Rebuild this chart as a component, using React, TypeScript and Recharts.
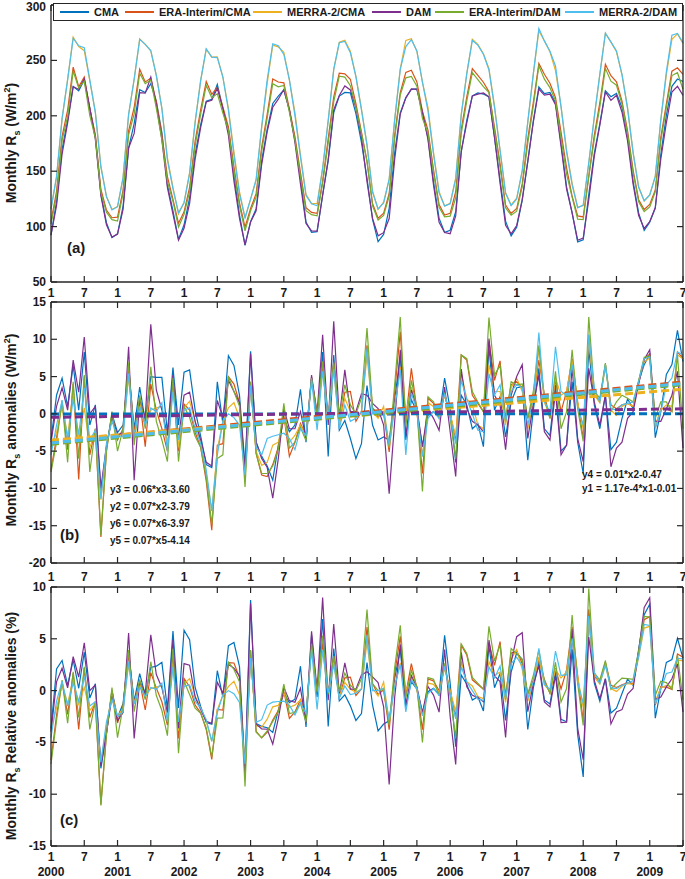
import React from 'react';
import { LineChart, Line, XAxis, YAxis, ReferenceLine } from 'recharts';

// series in drawing order
const seriesNames = ['CMA', 'ERA-Interim/CMA', 'MERRA-2/CMA', 'DAM', 'ERA-Interim/DAM', 'MERRA-2/DAM'];
const seriesKeys = ['cma', 'eraCma', 'merraCma', 'dam', 'eraDam', 'merraDam'];
const seriesColors = ['#0072BD', '#D95319', '#EDB120', '#7E2F8E', '#77AC30', '#4DBEEE'];

const years = [2000, 2001, 2002, 2003, 2004, 2005, 2006, 2007, 2008, 2009];
// month index from Jan 2000 (0) to Jul 2009 (114), a tick every 6 months
const monthTicks = [0, 6, 12, 18, 24, 30, 36, 42, 48, 54, 60, 66, 72, 78, 84, 90, 96, 102, 108, 114];

// multi-year monthly means (Jan..Dec), W/m2
const climCma = [96, 120, 165, 195, 220, 222, 224, 208, 180, 140, 108, 90];
const climEraCma = [112, 135, 180, 210, 240, 235, 230, 212, 185, 150, 120, 108];
const climMerraCma = [121, 147, 196, 236, 268, 266, 258, 236, 206, 166, 132, 116];
const climDam = [96, 118, 162, 193, 219, 221, 223, 207, 178, 138, 106, 91];
const climEraDam = [110, 132, 176, 206, 236, 231, 226, 208, 182, 147, 118, 106];
const climMerraDam = [121, 147, 196, 236, 268, 266, 258, 236, 205, 165, 131, 116];

// monthly anomalies, W/m2 (Jan 2000 .. Jul 2009)
const anomCma = [
  -3.5, 2.5, 4.8, 1.0, 6.5, 0.5, 8.3, -1.5, 1.2, -10.5,
  -4.5, 0.0, -2.5, -1.5, 6.0, -2.0, 3.6, -1.0, 5.0, 4.9,
  4.9, -2.5, 6.2, -1.5, 5.6, 5.9, 0.5, -3.0, -6.8, -7.2,
  4.3, -1.3, 7.8, 6.5, 2.5, -7.0, 8.4, -3.8, -5.7, -7.0,
  -8.9, -4.2, -0.6, -2.4, -1.5, 3.3, -3.8, 4.8, -0.6, 8.3,
  -5.7, 7.9, -2.2, -0.9, -3.3, -6.0, -4.0, 3.8, -1.5, -3.5,
  -3.1, -3.5, 2.0, 7.7, -3.5, 1.9, 0.3, -4.4, -0.2, 0.3,
  -0.4, 4.8, 0.7, -6.5, 2.5, 1.2, -2.0, -1.3, -4.4, 9.0,
  0.5, 2.3, -3.1, 1.6, 3.5, 3.6, -6.2, 0.5, 6.1, -2.0,
  -2.9, 3.9, -5.0, -4.2, 4.3, -3.8, -8.0, 8.8, 1.2, -2.0,
  2.5, -4.8, -3.8, -0.6, 2.0, 0.7, 4.3, 6.6, 8.0, -3.2,
  0.3, 5.3, 6.6, 11.2, 7.0,
];
const anomEraCma = [
  -7.5, -3.2, 1.5, -4.8, 4.0, -8.8, 5.0, -5.5, -2.0, -16.5,
  -5.0, 0.0, -3.5, -2.0, 6.5, -2.5, 2.0, -4.4, 4.0, 0.5,
  -2.0, -5.0, 4.5, -5.0, 1.3, 0.5, -2.5, -4.5, -9.0, -15.6,
  -4.2, -4.0, 5.0, 4.0, 1.5, -8.5, 4.3, -5.3, -8.2, -8.4,
  -6.8, -4.5, -0.2, -5.7, -3.8, -1.3, -2.9, 4.8, 0.0, 6.2,
  -0.6, 7.0, -1.5, 2.9, 3.0, -1.0, 0.3, 9.2, 0.8, -0.4,
  0.1, -5.1, 3.0, 11.0, -0.8, 6.1, 0.5, -8.0, 2.1, 1.4,
  0.0, 2.5, 0.0, -3.5, 7.9, 7.2, 2.5, 1.4, 0.3, 9.8,
  4.5, 7.1, -0.6, 3.9, 4.3, 3.5, -0.6, 2.1, 7.2, 2.5,
  -0.6, 4.6, 0.3, 3.0, 7.4, 1.6, -3.3, 10.6, 2.5, 1.8,
  6.6, 1.2, 0.7, 1.2, 1.4, 1.0, 4.3, 7.4, 8.0, -1.9,
  0.7, 0.7, 0.3, 8.3, 7.4,
];
const anomMerraCma = [
  -4.5, -2.5, 1.2, -3.0, 3.0, -3.5, 0.8, -4.5, -2.5, -11.5,
  -4.5, -0.5, -3.0, -2.5, 5.0, -3.0, 1.5, -1.5, 0.5, 0.8,
  1.0, -4.0, 3.5, -4.5, 0.8, 1.7, -1.0, -4.0, -8.0, -13.0,
  -4.8, -1.0, 0.8, 1.5, -0.5, -8.2, 3.8, -5.0, -6.9, -6.5,
  -4.2, -3.8, -0.6, -3.8, -2.9, -1.5, -2.9, 4.8, 0.0, 5.7,
  -0.6, 5.9, -1.5, 2.1, 0.3, -0.4, 0.3, 7.8, 0.3, -0.6,
  1.0, -4.5, 1.0, 6.3, 0.0, 3.6, 0.2, -5.7, 1.5, 1.0,
  -0.2, 2.5, 0.0, -3.0, 5.5, 2.0, 1.2, -1.5, -2.0, 6.6,
  3.0, 3.0, -1.5, 3.5, 4.8, 3.0, -2.0, 1.5, 8.7, 1.5,
  -0.2, 4.8, 2.5, 3.0, 7.2, 1.5, -2.0, 10.1, 2.5, 1.5,
  6.6, 0.5, -0.2, 1.0, 1.4, 1.0, 4.3, 7.0, 7.5, -1.5,
  0.5, 1.2, 1.0, 7.9, 7.4,
];
const anomDam = [
  -3.8, 1.0, 3.5, 0.5, 7.2, 2.9, 10.3, 0.0, 1.0, -10.0,
  -4.3, -0.5, -2.8, -2.5, 9.0, -8.9, 2.0, -0.5, 12.0, 3.2,
  0.5, -2.9, 5.2, -3.3, 2.5, 2.9, -1.0, -3.5, -6.5, -7.0,
  1.8, -0.5, 4.5, 3.0, 1.5, -7.5, 8.1, -3.8, -6.0, -7.2,
  -11.3, -6.0, 0.7, -2.0, -2.0, 0.3, -3.3, 5.2, 0.0, 10.6,
  -1.5, 12.4, -0.6, 5.9, 0.3, 0.3, 2.7, 2.5, 1.4, 0.7,
  -1.5, -10.7, -1.0, 8.6, -3.0, 3.2, 0.8, -4.4, 0.7, -0.6,
  -2.2, 3.6, -2.4, -8.4, 6.0, 0.7, -1.0, -1.5, -2.4, 10.1,
  2.5, 1.2, -4.8, 2.5, 5.0, 6.6, -3.3, 1.2, 5.2, -2.4,
  -3.5, 3.0, -5.5, -4.2, 6.3, -3.3, -6.4, 6.1, 1.6, -1.5,
  2.5, -7.1, -4.6, -3.8, -0.6, 0.3, 4.0, 7.3, 8.6, -1.0,
  -1.0, 0.7, 2.5, 5.7, -4.6,
];
const anomEraDam = [
  -7.8, -3.8, 1.8, -6.5, 4.3, -6.0, 5.2, -7.8, -2.0, -16.3,
  -5.0, 0.3, -5.0, -2.0, 6.9, -4.2, 2.5, -2.0, 6.3, -1.0,
  -3.5, -6.4, 4.8, -6.4, 1.0, -0.5, -3.0, -4.5, -8.5, -14.8,
  -6.0, -5.5, 5.0, 3.0, 1.0, -9.8, 4.3, -5.3, -8.0, -8.0,
  -7.0, -4.8, 1.4, -4.6, -3.8, -1.8, -3.6, 4.8, -0.2, 7.0,
  -0.6, 6.8, -0.2, 3.9, 1.2, 0.0, 2.1, 11.5, 0.8, 0.0,
  0.1, -4.4, 4.0, 13.0, -1.7, 4.5, 0.8, -10.4, 2.3, 1.6,
  -0.6, 2.8, -0.6, -6.0, 7.9, 7.4, 3.0, 1.6, 0.3, 12.9,
  5.2, 6.5, -1.0, 4.3, 3.9, 4.0, -0.6, 3.0, 9.2, 2.1,
  -0.6, 5.7, -2.0, 0.3, 8.6, 0.7, -3.7, 13.0, 3.0, 2.1,
  6.8, 0.3, 1.6, 2.5, 2.1, 1.6, 4.5, 7.6, 7.8, -0.6,
  1.6, 1.6, 0.3, 7.9, -2.0,
];
const anomMerraDam = [
  -5.5, -1.5, 1.8, -3.5, 2.0, -2.8, 3.5, -3.5, -2.2, -11.4,
  -4.0, -1.0, -3.0, -3.0, 5.4, -3.0, 1.0, -1.5, 0.8, 0.3,
  1.5, -5.0, 3.0, -3.5, 0.5, 0.8, -2.0, -4.0, -7.5, -13.0,
  -5.5, -1.0, 0.0, -0.5, -1.5, -8.2, 3.8, -4.5, -5.5, -3.3,
  -3.0, -2.8, -2.6, -3.3, -4.8, -2.0, -2.9, 4.6, -2.2, 5.7,
  -0.4, 6.0, -2.0, 1.2, -1.0, -0.6, 0.3, 8.8, 0.0, 0.0,
  0.3, -4.2, 0.8, 5.9, -5.5, 2.8, 0.5, -5.7, -0.6, 0.3,
  -0.6, 2.7, -0.4, -4.0, 4.5, 2.0, 0.0, -2.2, -2.4, 5.4,
  2.5, 3.9, -1.0, 3.0, 3.9, 3.5, -1.5, 2.1, 10.9, 1.6,
  0.3, 9.0, 3.0, 2.5, 6.6, 0.9, -1.5, 10.6, 3.4, 1.6,
  6.6, 0.7, 0.5, 1.2, 1.4, 1.6, 4.3, 7.4, 7.6, -1.9,
  0.3, 3.9, 4.8, 8.3, 7.9,
];

// linear trends printed in panel (b): y = slope * x + intercept, x = 1..115
const trendSlopes = [1.17e-4, 0.07, 0.06, 0.01, 0.07, 0.07];
const trendIntercepts = [-0.01, -3.79, -3.6, -0.47, -4.14, -3.97];
const trendLabelsLeft = ['y3 = 0.06*x3-3.60', 'y2 = 0.07*x2-3.79', 'y6 = 0.07*x6-3.97', 'y5 = 0.07*x5-4.14'];
const trendLabelsRight = ['y4 = 0.01*x2-0.47', 'y1 = 1.17e-4*x1-0.01'];

const climatology = [climCma, climEraCma, climMerraCma, climDam, climEraDam, climMerraDam];
const anomalies = [anomCma, anomEraCma, anomMerraCma, anomDam, anomEraDam, anomMerraDam];

type Kind = 'abs' | 'anom' | 'rel';
const buildRows = (kind: Kind) =>
  anomCma.map((_, i) => {
    const row: any = { i };
    seriesKeys.forEach((k, s) => {
      const a = anomalies[s][i];
      const c = climatology[s][i % 12];
      row[k] = kind === 'abs' ? c + a : kind === 'anom' ? a : (a / c) * 100;
    });
    return row;
  });

const FONT = "'Liberation Sans', Arial, Helvetica, sans-serif";
const AXIS = '#262626';
const tickText: React.CSSProperties = { fontFamily: FONT, fontWeight: 700, fontSize: 12, fill: '#1a1a1a' };

const BottomTick = (props: any) => {
  const { x, y, payload, offset, withYear } = props;
  const v = payload.value;
  const jan = v % 12 === 0;
  return (
    <g>
      <line x1={x} x2={x} y1={y} y2={y - 6} stroke={AXIS} strokeWidth={1.2} />
      <text x={x} y={y + offset} textAnchor="middle" style={tickText}>{jan ? '1' : '7'}</text>
      {withYear && jan && (
        <text x={x} y={y + offset + 15} textAnchor="middle" style={tickText}>{years[v / 12]}</text>
      )}
    </g>
  );
};
const TopTick = (props: any) => (
  <line x1={props.x} x2={props.x} y1={props.y} y2={props.y + 6} stroke={AXIS} strokeWidth={1.2} />
);
const LeftTick = (props: any) => {
  const { x, y, payload } = props;
  return (
    <g>
      <line x1={x} x2={x + 6} y1={y} y2={y} stroke={AXIS} strokeWidth={1.2} />
      {/* keep the topmost label inside the svg */}
      <text x={x - 5} y={Math.max(y + 4, 11)} textAnchor="end" style={tickText}>{payload.value}</text>
    </g>
  );
};
const RightTick = (props: any) => (
  <line x1={props.x} x2={props.x - 6} y1={props.y} y2={props.y} stroke={AXIS} strokeWidth={1.2} />
);

interface PanelProps {
  top: number;
  height: number;
  margin: { top: number; right: number; bottom: number; left: number };
  rows: any[];
  yDomain: [number, number];
  yTicks: number[];
  labelOffset: number;
  withYear?: boolean;
  children?: React.ReactNode;
}

// axes get 1px of room each (a zero-size axis is not drawn), margins below account for that
const Panel: React.FC<PanelProps> = ({ top, height, margin, rows, yDomain, yTicks, labelOffset, withYear, children }) => (
  <div style={{ position: 'absolute', left: 0, top }}>
    <LineChart width={685} height={height} data={rows} margin={margin}>
      <XAxis
        xAxisId="b"
        dataKey="i"
        type="number"
        domain={[0, 114]}
        ticks={monthTicks}
        interval={0}
        height={1}
        tickSize={0}
        tickMargin={0}
        axisLine={{ stroke: AXIS, strokeWidth: 1.3 }}
        tickLine={false}
        tick={(p: any) => <BottomTick {...p} offset={labelOffset} withYear={withYear} />}
      />
      <XAxis
        xAxisId="t"
        orientation="top"
        dataKey="i"
        type="number"
        domain={[0, 114]}
        ticks={monthTicks}
        interval={0}
        height={1}
        tickSize={0}
        tickMargin={0}
        axisLine={{ stroke: AXIS, strokeWidth: 1.3 }}
        tickLine={false}
        tick={TopTick}
      />
      <YAxis
        yAxisId="l"
        type="number"
        domain={yDomain}
        ticks={yTicks}
        interval={0}
        allowDataOverflow
        width={1}
        tickSize={0}
        tickMargin={0}
        axisLine={{ stroke: AXIS, strokeWidth: 1.3 }}
        tickLine={false}
        tick={LeftTick}
      />
      <YAxis
        yAxisId="r"
        orientation="right"
        type="number"
        domain={yDomain}
        ticks={yTicks}
        interval={0}
        allowDataOverflow
        width={1}
        tickSize={0}
        tickMargin={0}
        axisLine={{ stroke: AXIS, strokeWidth: 1.3 }}
        tickLine={false}
        tick={RightTick}
      />
      {seriesKeys.map((k, s) => (
        <Line
          key={k}
          xAxisId="b"
          yAxisId="l"
          type="linear"
          dataKey={k}
          name={seriesNames[s]}
          stroke={seriesColors[s]}
          strokeWidth={1.2}
          dot={false}
          activeDot={false}
          isAnimationActive={false}
        />
      ))}
      {children}
    </LineChart>
  </div>
);

const YTitle = ({ cx, cy, pre, post }: { cx: number; cy: number; pre: string; post: React.ReactNode }) => (
  <div
    style={{
      position: 'absolute',
      left: cx,
      top: cy,
      transform: 'translate(-50%, -50%) rotate(-90deg)',
      whiteSpace: 'nowrap',
      fontFamily: FONT,
      fontWeight: 700,
      fontSize: 14,
      lineHeight: '16px',
      color: '#1a1a1a',
    }}
  >
    {pre}R<span style={{ fontSize: 9, position: 'relative', top: 4 }}>s</span> {post}
  </div>
);

const Sup2 = () => <span style={{ fontSize: 9, position: 'relative', top: -6 }}>2</span>;

const tagStyle: React.CSSProperties = {
  position: 'absolute',
  fontFamily: FONT,
  fontWeight: 700,
  fontSize: 15,
  lineHeight: '18px',
  color: '#1a1a1a',
};
const eqStyle: React.CSSProperties = {
  position: 'absolute',
  fontFamily: FONT,
  fontWeight: 700,
  fontSize: 10,
  lineHeight: '12px',
  color: '#1a1a1a',
  whiteSpace: 'nowrap',
};

const legendLeft = [60, 125, 253, 372, 435, 565];

export default function App() {
  const absRows = buildRows('abs');
  const anomRows = buildRows('anom');
  const relRows = buildRows('rel');

  return (
    <div style={{ position: 'absolute', left: 0, top: 0, width: 685, height: 879, background: '#fff' }}>
      <Panel
        top={0}
        height={300}
        margin={{ top: 4, right: 1, bottom: 17, left: 50 }}
        rows={absRows}
        yDomain={[50, 300]}
        yTicks={[50, 100, 150, 200, 250, 300]}
        labelOffset={15}
      />
      <Panel
        top={290}
        height={295}
        margin={{ top: 11, right: 1, bottom: 21, left: 50 }}
        rows={anomRows}
        yDomain={[-20, 15]}
        yTicks={[-20, -15, -10, -5, 0, 5, 10, 15]}
        labelOffset={18}
      >
        {trendSlopes.map((m, s) => (
          <ReferenceLine
            key={`trend-${s}`}
            xAxisId="b"
            yAxisId="l"
            segment={[
              { x: 0, y: m * 1 + trendIntercepts[s] },
              { x: 114, y: m * 115 + trendIntercepts[s] },
            ]}
            stroke={seriesColors[s]}
            strokeWidth={3}
            strokeDasharray="8 4"
          />
        ))}
      </Panel>
      <Panel
        top={580}
        height={299}
        margin={{ top: 6, right: 1, bottom: 32, left: 50 }}
        rows={relRows}
        yDomain={[-15, 10]}
        yTicks={[-15, -10, -5, 0, 5, 10]}
        labelOffset={15}
        withYear
      />

      {/* legend of panel (a) */}
      <div
        style={{
          position: 'absolute',
          left: 53,
          top: 3,
          width: 628,
          height: 16,
          border: `1px solid ${AXIS}`,
          background: '#fff',
        }}
      />
      {seriesNames.map((n, s) => (
        <div
          key={n}
          style={{
            position: 'absolute',
            left: legendLeft[s],
            top: 4,
            height: 16,
            display: 'flex',
            alignItems: 'center',
            fontFamily: FONT,
            fontWeight: 700,
            fontSize: 11,
            color: '#1a1a1a',
            whiteSpace: 'nowrap',
          }}
        >
          <span style={{ display: 'inline-block', width: 29, height: 1.5, background: seriesColors[s], marginRight: 5 }} />
          {n}
        </div>
      ))}

      <YTitle cx={12} cy={143} pre="Monthly " post={<>(W/m<Sup2 />)</>} />
      <YTitle cx={12} cy={430} pre="Monthly " post={<>anomalies (W/m<Sup2 />)</>} />
      <YTitle cx={12} cy={726} pre="Monthly " post="Relative anomalies (%)" />

      <div style={{ ...tagStyle, left: 67, top: 239 }}>(a)</div>
      <div style={{ ...tagStyle, left: 60, top: 526 }}>(b)</div>
      <div style={{ ...tagStyle, left: 60, top: 811 }}>(c)</div>

      {trendLabelsLeft.map((t, k) => (
        <div key={t} style={{ ...eqStyle, left: 110, top: 484 + k * 17 }}>{t}</div>
      ))}
      {trendLabelsRight.map((t, k) => (
        <div key={t} style={{ ...eqStyle, left: 582, top: 469 + k * 14 }}>{t}</div>
      ))}
    </div>
  );
}
